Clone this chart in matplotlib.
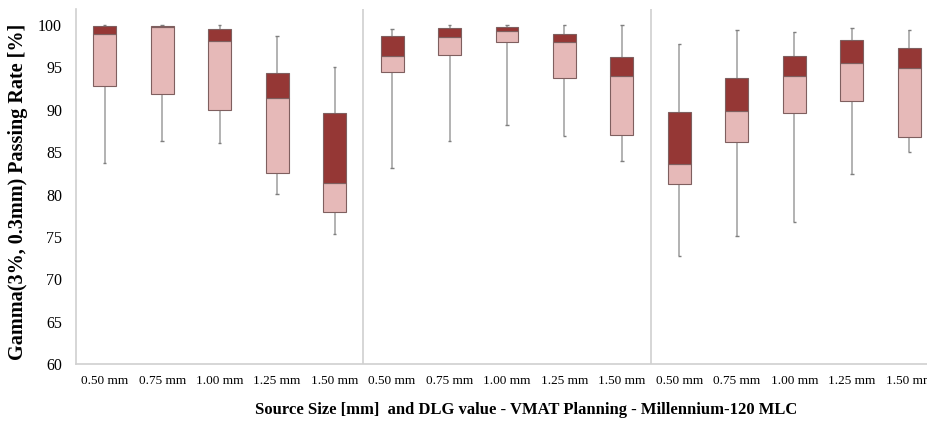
import numpy as np
import matplotlib.pyplot as plt

plt.rcParams['font.family'] = ['Liberation Serif', 'DejaVu Serif']

sizes = ['0.50 mm', '0.75 mm', '1.00 mm', '1.25 mm', '1.50 mm']
labels = sizes * 3

# five-number summaries, three groups of five
whisk_lo = [83.7, 86.3, 86.1, 80.1, 75.3,
            83.1, 86.3, 88.2, 86.9, 84.0,
            72.7, 75.1, 76.8, 82.4, 85.0]
q1 = [92.8, 91.9, 90.0, 82.6, 77.9,
      94.5, 96.5, 98.0, 93.8, 87.0,
      81.2, 86.2, 89.6, 91.0, 86.8]
median = [99.0, 99.75, 98.15, 91.4, 81.4,
          96.3, 98.55, 99.3, 98.0, 93.95,
          83.55, 89.85, 93.95, 95.55, 94.95]
q3 = [99.9, 99.9, 99.5, 94.4, 89.6,
      98.7, 99.7, 99.8, 99.0, 96.2,
      89.7, 93.75, 96.35, 98.2, 97.3]
whisk_hi = [100.0, 100.0, 100.0, 98.7, 95.0,
            99.5, 100.0, 100.0, 100.0, 100.0,
            97.8, 99.45, 99.2, 99.7, 99.45]

pink = '#E6B9B8'
dark = '#953735'
grey = '#A6A6A6'

fig = plt.figure(figsize=(9.27, 4.22), dpi=100)
ax = fig.add_axes([76 / 927, 58 / 422, 862 / 927, 355 / 422])

x = np.arange(len(labels))
q1a, meda, q3a = np.array(q1), np.array(median), np.array(q3)

ax.vlines(x, whisk_lo, q1, color=grey, lw=1.2, zorder=1)
ax.vlines(x, q3, whisk_hi, color=grey, lw=1.2, zorder=1)
ax.hlines(whisk_lo, x - 0.03, x + 0.03, color='#7F7F7F', lw=1, zorder=1)
ax.hlines(whisk_hi, x - 0.03, x + 0.03, color='#7F7F7F', lw=1, zorder=1)

ax.bar(x, meda - q1a, bottom=q1a, width=0.4, color=pink,
       edgecolor='#7F5F5F', linewidth=0.8, zorder=2)
ax.bar(x, q3a - meda, bottom=meda, width=0.4, color=dark,
       edgecolor='#7F5F5F', linewidth=0.8, zorder=2)

for sep in [4.5, 9.5]:
    ax.axvline(sep, color='#D0D0D0', lw=1.2, zorder=0)

ax.set_xlim(-0.5, 14.5)
ax.set_ylim(60, 101.9)
ax.set_yticks(np.arange(60, 101, 5))
ax.set_xticks(x)
ax.set_xticklabels(labels, fontsize=9.5)
ax.tick_params(axis='y', length=0, labelsize=11.5, pad=10)
ax.tick_params(axis='x', length=0, pad=8)

for s in ['top', 'right']:
    ax.spines[s].set_visible(False)
for s in ['left', 'bottom']:
    ax.spines[s].set_color('#D0D0D0')
    ax.spines[s].set_linewidth(1.2)

ax.set_ylabel('Gamma(3%, 0.3mm) Passing Rate [%]', fontsize=14.5,
              fontweight='bold')
ax.yaxis.set_label_coords(-48 / 862, 0.485)
ax.set_xlabel('Source Size [mm]  and DLG value - VMAT Planning - Millennium-120 MLC',
              fontsize=12, fontweight='bold')
ax.xaxis.set_label_coords(450 / 862, -38 / 355)

fig.savefig('out.png', dpi=100)
